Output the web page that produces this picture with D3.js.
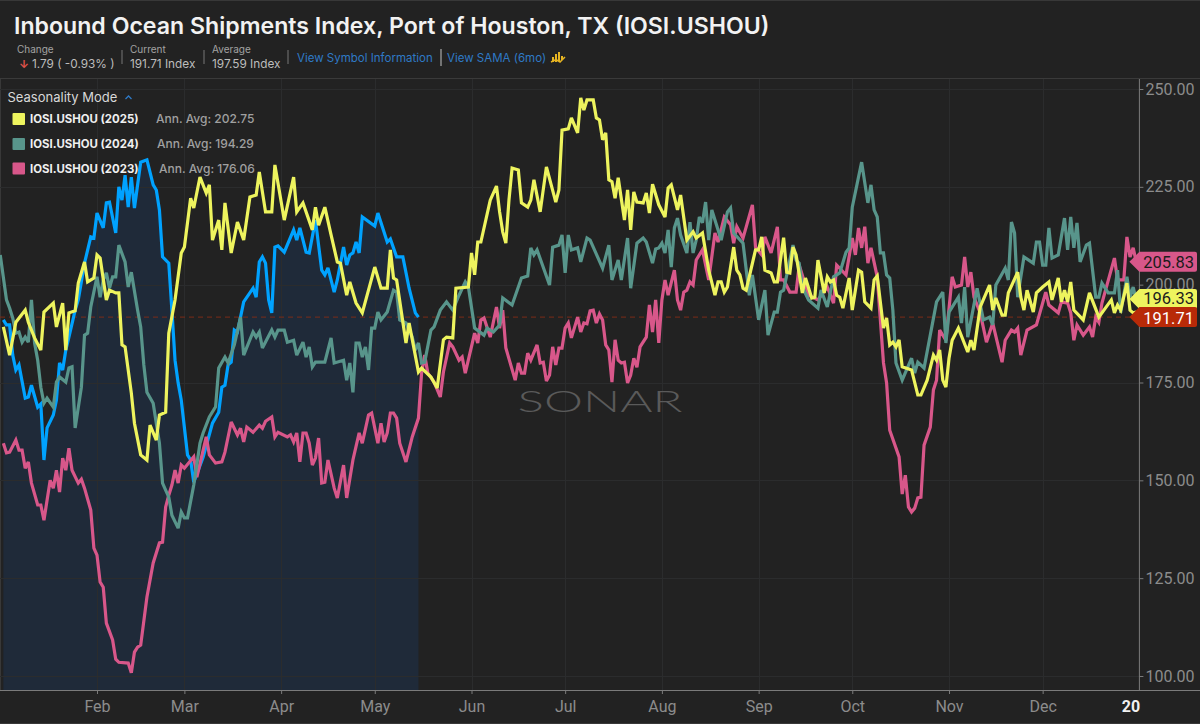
<!DOCTYPE html>
<html><head><meta charset="utf-8">
<style>
html,body{margin:0;padding:0;background:#222222;overflow:hidden}
svg{display:block}
text{font-family:Inter,"Noto Sans",sans-serif}
</style>
<script src="https://cdn.jsdelivr.net/npm/d3@7"></script>
</head><body><svg id="c" width="1200" height="724"></svg>
<script>
// Each pair: [day of year, index value]
const s2025 = [[1,189.2],[3,182],[5,190.4],[8,193.5],[9,190.4],[11,186.4],[13,183.3],[14,193],[17,195.3],[18,189.2],[20,195.3],[21,183.3],[22,192.8],[24,193.3],[25,200.4],[27,205.8],[28,200.7],[30,201.7],[31,207.6],[32,206.8],[34,196.1],[35,198.6],[37,197.9],[38,197.9],[39,184.6],[40,184.1],[42,172.3],[43,164.6],[45,156.5],[47,155.2],[48,164.1],[50,160.3],[51,166.7],[53,167.4],[54,187.6],[56,196.1],[58,208.1],[59,209.6],[61,222.1],[62,219.6],[64,227.5],[66,223.4],[67,225.5],[68,211.4],[70,216.5],[71,208.9],[72,220.9],[74,208.1],[76,216],[78,211.4],[80,222.4],[82,222.9],[83,228.8],[85,218.6],[87,218.6],[88,230.6],[91,216.5],[94,227.5],[95,218.6],[97,220.9],[100,214],[101,219.8],[102,215.2],[104,219.8],[106,212.7],[108,205.8],[109,205.5],[111,197.3],[112,200.7],[114,195.3],[116,192.8],[120,204.5],[122,199.1],[124,199.1],[125,208.9],[126,201.7],[127,201.2],[130,185.1],[131,190.2],[134,177.7],[135,178.7],[138,176.4],[140,173.6],[142,185.9],[143,186.6],[145,186.4],[146,199.1],[150,199.4],[151,208.1],[152,202.5],[153,210.9],[154,210.9],[157,221.6],[159,225.2],[160,218.6],[161,213.5],[162,210.6],[163,221.6],[164,229.8],[166,229.3],[167,220.9],[169,219.8],[170,221.6],[171,226.8],[173,218.6],[175,230.1],[178,221.1],[179,224.2],[180,239.5],[182,239.8],[183,242.6],[185,238.8],[186,247.7],[187,244.6],[188,247.2],[190,247.2],[191,242.6],[192,242.1],[193,237],[194,238.8],[195,226.8],[196,226.3],[197,222.1],[198,227.3],[200,216.5],[201,224.2],[202,214],[203,223.7],[204,221.1],[206,220.9],[207,223.4],[208,218.3],[209,225.7],[211,220.4],[213,217.3],[214,224.7],[215,225.5],[217,219.1],[218,222.9],[220,211.4],[222,213.5],[223,211.9],[225,213.2],[227,203.7],[229,197.3],[230,200.7],[231,200.7],[232,198.1],[233,199.4],[235,209.6],[236,203.7],[237,202.5],[238,199.1],[239,198.6],[242,208.9],[243,208.9],[244,212.2],[245,203.7],[247,203],[248,200.7],[249,200.7],[251,212],[252,203.2],[253,203],[254,209.6],[255,207.6],[257,197.9],[258,201.7],[260,196.6],[261,196.8],[262,206.3],[264,197.9],[265,202],[266,200.7],[267,201.2],[268,197.3],[269,196.8],[270,194],[272,201.7],[273,193.5],[275,203.7],[276,203.2],[277,195.6],[279,194],[280,201.2],[281,202.2],[283,188.9],[284,191.5],[285,184.6],[286,185.3],[287,184.1],[288,185.9],[289,179],[292,178.2],[294,171.8],[295,171.8],[297,175.6],[299,182],[300,180.7],[301,183.3],[302,175.6],[303,173.8],[304,181.2],[305,185.8],[307,188.9],[310,182.8],[311,185.8],[312,183.3],[314,194.3],[317,199.9],[318,193.5],[319,196.6],[321,192.2],[322,192.2],[323,197.9],[326,203.2],[327,196.8],[328,193.5],[329,198.6],[331,193],[332,197.9],[334,199.4],[336,200.7],[337,196.1],[339,201.7],[340,195.6],[341,198.6],[342,195.6],[343,200.7],[344,193.5],[347,191],[349,197.9],[352,191.7],[356,196.1],[357,192.8],[358,194.8],[359,193.5],[361,200.4],[362,193.5],[363,192.8],[364,193]];
const s2026 = [[1,191],[2,189.7],[3,189.7],[4,182],[5,178.2],[6,179.5],[8,171],[9,171.3],[10,174.3],[12,168.7],[13,169.5],[14,155.2],[15,163.4],[17,166.7],[18,170.5],[19,180],[20,178.2],[21,183.3],[22,186.6],[24,193.5],[25,196.1],[27,205.5],[29,212.2],[30,211.9],[31,218.3],[33,214.5],[34,220.9],[35,221.1],[37,213.2],[38,225],[39,221.6],[40,228],[41,219.8],[42,227.5],[43,219.6],[45,231.3],[47,231.9],[49,225.5],[50,224.2],[51,219.1],[52,207.1],[54,205.5],[55,193.5],[56,180.7],[57,174.9],[58,170.5],[60,156.5],[61,155.2],[62,149.5],[65,155.9],[68,164.6],[70,167.4],[71,173.8],[72,174.3],[73,179.5],[74,180.2],[75,188.4],[76,187.9],[78,195.6],[81,199.1],[82,196.8],[83,205.8],[84,207.1],[85,205.5],[86,196.1],[87,192.8],[88,209.6],[89,209.9],[91,208.3],[94,214],[95,211.4],[96,214.5],[98,208.3],[99,208.1],[101,216.5],[103,203.7],[104,202.5],[105,204.3],[107,198.1],[108,201.2],[110,209.6],[111,205],[112,207.6],[113,208.1],[114,210.9],[115,208.1],[116,217.3],[120,215],[121,218.3],[124,210.9],[125,211.7],[127,207.1],[129,207.1],[131,199.1],[133,192.8],[134,191.7]];
const s2024 = [[0,207.6],[2,196.1],[3,194],[4,191.5],[5,187.6],[6,187.9],[7,185.3],[8,186.6],[9,185.3],[10,196.1],[11,185.1],[12,180.7],[13,173.8],[14,169.7],[15,171],[17,168.7],[18,175.1],[19,176.4],[21,175.1],[22,178.7],[23,179],[24,163.4],[26,173.8],[27,187.1],[28,187.6],[29,194.3],[31,202],[32,196.8],[33,201.2],[34,203],[35,199.1],[36,202],[37,202],[38,210.1],[40,205.8],[41,199.4],[42,203.2],[44,193.5],[45,189.2],[46,179.5],[47,172.5],[49,169.7],[51,159.5],[52,149.3],[54,145.7],[55,141.1],[57,137.8],[58,141.9],[59,140.4],[60,140.4],[62,148.8],[64,159.5],[65,162.1],[67,166.2],[69,168.8],[70,178.7],[72,181.5],[73,180],[75,184.6],[77,191.7],[78,182],[81,187.9],[82,186.6],[83,187.9],[84,183.8],[87,188.4],[88,186.6],[89,188.4],[91,188.4],[92,185.3],[94,185.8],[95,182],[97,185.3],[98,181.5],[99,184.1],[100,179],[101,180.2],[104,180.2],[106,186.4],[107,180],[110,180.7],[111,175.6],[112,180],[113,172.5],[114,185.1],[115,185.1],[116,181.5],[117,184.1],[118,178.2],[119,188.9],[120,188.9],[121,193],[122,191],[124,193],[126,198.6],[127,198.1],[128,191],[130,190.2],[132,186.6],[133,183.3],[134,185.1],[135,180],[136,180.2],[138,188.4],[139,189.2],[141,193.5],[143,195.6],[145,193.5],[147,197.3],[149,200.7],[150,199.4],[152,188.9],[155,187.1],[156,188.9],[158,187.9],[160,189.7],[161,196.6],[164,194.8],[167,201.7],[169,202.2],[170,209.4],[171,207.6],[172,208.9],[176,199.9],[177,209.6],[179,210.1],[180,212.7],[181,203],[182,212.7],[183,208.9],[185,209.4],[186,205.8],[188,211.9],[189,211.4],[193,204.2],[195,210.1],[196,201.2],[198,206.3],[199,201.2],[201,211.9],[202,199.1],[204,210.6],[206,211.9],[207,210.9],[209,205.5],[210,209.1],[211,209.4],[212,210.6],[213,208.1],[214,214],[215,204.5],[216,214.5],[217,217],[218,212.7],[220,208.1],[221,216],[222,208.1],[223,211.4],[224,217.3],[225,215.8],[226,221.1],[227,211.4],[228,219.1],[231,211.4],[233,218.6],[234,219.6],[235,213.2],[238,210.6],[240,197.3],[241,202.5],[243,191],[245,198.6],[246,187.1],[248,193],[249,193],[250,198.1],[251,198.6],[254,210.1],[255,206.3],[256,205.5],[257,199.4],[259,196.1],[262,194],[263,198.6],[265,194.3],[267,202],[269,203],[271,208.3],[272,209.4],[273,219.8],[276,231.3],[278,220.9],[279,225.5],[280,219.1],[281,217.3],[282,208.1],[283,208.1],[284,202.5],[285,201.7],[286,193.5],[287,180],[289,175.6],[292,181.2],[293,177.4],[294,180.2],[296,178.7],[300,195.6],[302,198.1],[303,185.1],[304,193],[307,196.8],[308,190.2],[309,199.4],[310,186.6],[313,199.1],[315,191],[317,191.7],[318,189.7],[319,199.9],[322,204.2],[323,201.2],[324,216],[325,213.2],[326,196.8],[328,207.1],[331,205.5],[332,210.9],[333,210.9],[334,205],[335,205],[336,214.5],[337,206.8],[339,207.6],[341,217],[342,208.9],[343,217.3],[344,209.4],[345,215.8],[346,205.8],[348,210.1],[349,210.6],[351,196.8],[352,196.8],[353,200.4],[355,197.9],[357,197.9],[358,203.7],[359,192.8],[361,202],[362,196.8],[363,199.4],[364,196.1]];
const s2023 = [[1,159.5],[2,157],[3,157.2],[5,160.3],[6,157.7],[7,157.7],[8,153.1],[9,154.7],[10,149.3],[12,143.7],[13,143.7],[14,139.8],[16,150],[17,148],[18,152.6],[19,147],[20,155.7],[21,152.6],[22,158.2],[23,152.6],[25,149.3],[26,150.3],[27,148],[29,142.4],[30,132.7],[31,130.9],[32,124],[33,122.7],[34,113.5],[36,109.2],[37,104.3],[38,103.5],[41,103.3],[42,100.8],[43,106.1],[44,107.4],[45,107.9],[47,120.2],[49,128.9],[51,134],[52,134.2],[53,143.2],[54,146.2],[55,148.8],[56,152.6],[57,149.3],[58,153.9],[59,153.1],[62,156],[63,150.8],[66,161.1],[67,156.5],[69,154.4],[71,154.7],[72,157.2],[74,164.9],[76,161.6],[77,163.3],[78,159.8],[79,163.6],[81,162.3],[83,164.1],[84,163.3],[85,165.1],[87,166.2],[88,161.1],[89,162.3],[92,161.1],[93,161.6],[94,159.8],[95,162.1],[96,154.7],[97,162.1],[98,162.1],[99,159.5],[100,153.9],[101,155.7],[102,160.8],[103,149.3],[104,149.5],[105,155.2],[107,148],[108,145.5],[110,153.9],[111,145.5],[113,155.2],[115,162.1],[116,159.5],[118,166.7],[119,167.2],[121,159.5],[122,164.6],[123,159.8],[124,162.1],[125,167.2],[126,167.2],[127,165.9],[128,159.5],[130,154.7],[132,161.1],[134,165.9],[135,177.4],[136,182],[137,177.4],[139,175.1],[141,171.3],[142,177.7],[144,185.1],[145,184.1],[147,180.7],[148,181.5],[149,177.4],[152,187.6],[153,185.1],[154,191],[155,191.5],[157,186.6],[159,194.3],[160,188.9],[161,193.5],[162,183.8],[165,175.6],[166,180],[167,177.4],[168,177.4],[169,182.5],[170,180.7],[172,184.6],[173,180],[174,180.2],[175,175.4],[176,176.9],[177,184.1],[178,179.5],[179,183.8],[180,183.8],[181,188.9],[182,190.2],[183,186.4],[185,191.7],[186,187.9],[187,190.2],[188,190],[189,193.3],[190,193.5],[191,190.2],[192,192.5],[193,191],[194,184.6],[195,183.3],[196,175.1],[197,185.9],[198,180.7],[199,180],[200,180.2],[201,174.9],[202,176.9],[203,181.2],[204,178.9],[205,184.1],[207,186.6],[208,194.8],[209,187.9],[210,196.1],[211,185.1],[212,196.1],[213,201.2],[214,197.3],[216,203.7],[217,196.1],[218,193.5],[219,198.1],[220,198.6],[221,200.7],[222,199.9],[223,206.3],[225,208.9],[227,201.2],[229,213.2],[230,210.9],[232,217.3],[234,215.3],[235,210.6],[236,214.8],[238,211.9],[241,220.4],[242,209.6],[244,207.6],[245,212.2],[247,208.1],[249,214.8],[250,201.2],[251,201.2],[253,198.1],[255,198.1],[256,205],[259,197.3],[262,196.1],[265,199.4],[267,195.3],[268,205],[271,202.5],[273,211.9],[274,207.6],[275,214.5],[276,209.4],[277,214.8],[278,205.5],[279,209.4],[281,202],[283,180],[284,174.9],[285,162.8],[288,156],[289,146.5],[290,151.3],[291,143.2],[292,141.9],[293,142.9],[294,145.5],[295,145.7],[296,159],[298,163.6],[299,173.1],[300,175.6],[301,188.4],[303,185.8],[305,202],[306,199.4],[308,199.9],[309,207.1],[310,199.4],[311,203.2],[312,196.8],[314,192.8],[316,185.3],[318,190.2],[321,180.2],[322,185.8],[324,188.4],[325,187.9],[326,188.9],[327,182],[329,188.4],[332,189.7],[335,198.1],[336,194.8],[339,192.8],[340,195.6],[342,195.3],[343,192.8],[344,185.8],[345,189.7],[347,187.1],[349,189.2],[350,186.6],[351,191.7],[352,190.4],[353,195.3],[357,206.8],[358,201.2],[360,201.2],[361,212.2],[362,207.1],[363,209.4],[364,205.8]];

const monthLabels = ["Feb","Mar","Apr","May","Jun","Jul","Aug","Sep","Oct","Nov","Dec","20"];
const monthDays = [31,59,90,120,151,181,212,243,273,304,334,365];
const priceTicks = [100,125,150,175,200,225,250];
const legendNames = ["IOSI.USHOU (2025)","IOSI.USHOU (2024)","IOSI.USHOU (2023)"];
const legendAvgs = ["Ann. Avg: 202.75","Ann. Avg: 194.29","Ann. Avg: 176.06"];
const lastValues = [205.83,196.33,191.71];

const C = {bg:"#222222",grid:"#2b2c2d",axis:"#7b7b7b",tick:"#8c8c8c",yellow:"#eef45e",green:"#58958b",pink:"#d8578a",blue:"#00a2ff",fill:"#1f2a39",red:"#b82a08"};
const svg = d3.select("#c");
const x = d3.scaleLinear().domain([0,365]).range([0.25,1139.4]);
const y = d3.scaleLinear().domain([100,250]).range([676,89]);
const baseY = 690, topY = 79, axisX = x(365);

svg.append("rect").attr("width",1200).attr("height",724).attr("fill",C.bg);
svg.append("line").attr("x1",0).attr("x2",1200).attr("y1",0.5).attr("y2",0.5).attr("stroke","#383838");
svg.append("line").attr("x1",0).attr("x2",1200).attr("y1",78.5).attr("y2",78.5).attr("stroke","#3a3a3a");
svg.append("line").attr("x1",0).attr("x2",1200).attr("y1",723.5).attr("y2",723.5).attr("stroke","#383838");
svg.append("line").attr("x1",0.5).attr("x2",0.5).attr("y1",79).attr("y2",690).attr("stroke","#383838");

const area = d3.area().x(d=>x(d[0])).y0(baseY).y1(d=>y(d[1])).curve(d3.curveLinear);
svg.append("path").datum(s2026).attr("d",area).attr("fill",C.fill);

const g = svg.append("g");
g.selectAll(".h").data(priceTicks).join("line").attr("x1",0).attr("x2",axisX).attr("y1",d=>Math.round(y(d))+.5).attr("y2",d=>Math.round(y(d))+.5).attr("stroke",C.grid);
g.selectAll(".v").data(monthDays.slice(0,11)).join("line").attr("y1",topY).attr("y2",baseY).attr("x1",d=>Math.round(x(d))+.5).attr("x2",d=>Math.round(x(d))+.5).attr("stroke",C.grid);

svg.append("line").attr("x1",0).attr("x2",axisX).attr("y1",y(lastValues[2])).attr("y2",y(lastValues[2])).attr("stroke","#7d2c18").attr("stroke-width",1).attr("stroke-dasharray","5 4");

const line = d3.line().x(d=>x(d[0])).y(d=>y(d[1])).curve(d3.curveLinear);
[[s2026,C.blue],[s2023,C.pink],[s2024,C.green],[s2025,C.yellow]].forEach(([d,c])=>{
  svg.append("path").datum(d).attr("d",line).attr("fill","none").attr("stroke",c).attr("stroke-width",3.2).attr("stroke-linejoin","miter").attr("stroke-miterlimit",3);
});

const yAxis = svg.append("g").attr("transform",`translate(${axisX},0)`)
  .call(d3.axisRight(y).tickValues(priceTicks).tickFormat(d3.format(".2f")).tickSize(4).tickPadding(2));
yAxis.select(".domain").remove();
yAxis.selectAll("line").attr("stroke",C.axis);
yAxis.selectAll("text").attr("fill",C.tick).style("font-family","Roboto").style("font-size","16px");
svg.append("line").attr("x1",axisX).attr("x2",axisX).attr("y1",topY).attr("y2",baseY).attr("stroke",C.axis);

const xAxis = svg.append("g").attr("transform",`translate(0,${baseY})`)
  .call(d3.axisBottom(x).tickValues(monthDays).tickFormat((d,i)=>monthLabels[i]).tickSize(4).tickPadding(7));
xAxis.select(".domain").remove();
xAxis.selectAll("line").attr("stroke",C.axis);
xAxis.selectAll("text").attr("fill",C.tick).style("font-family","Roboto").style("font-size","16px");
xAxis.selectAll("g.tick").filter(d=>d===365).select("text").attr("fill","#f0f0f0").attr("dx",-9).style("font-weight","700");
xAxis.selectAll("g.tick").filter(d=>d===365).select("line").remove();
svg.append("line").attr("x1",0).attr("x2",1200).attr("y1",baseY+.5).attr("y2",baseY+.5).attr("stroke",C.axis);

const tagColors = [C.pink,C.yellow,C.red], tagText = ["#1c1c1c","#1c1c1c","#ffffff"];
const tagShift = [0,-1,0.5];
lastValues.forEach((v,i)=>{
  const cy = y(v), t = axisX-10, l = axisX, r = 1197, h = 10, rad = 2;
  svg.append("path").attr("d",`M${t},${cy}L${l},${cy-h}H${r-rad}Q${r},${cy-h} ${r},${cy-h+rad}V${cy+h-rad}Q${r},${cy+h} ${r-rad},${cy+h}H${l}Z`).attr("fill",tagColors[i]);
  svg.append("text").attr("x",1194).attr("y",cy+tagShift[i]).attr("dy",".36em").attr("text-anchor","end").attr("fill",tagText[i]).style("font-family","Roboto").style("font-size","16.5px").text(v.toFixed(2));
});

svg.append("text").attr("x",600).attr("y",412).attr("text-anchor","middle").attr("fill","#5a5a5a").attr("textLength",165).attr("lengthAdjust","spacingAndGlyphs").style("font-family","Lato").style("font-weight",300).style("font-size","29px").text("SONAR");

const T = (tx,ty,s,size,fill,weight,fam)=>svg.append("text").attr("x",tx).attr("y",ty).attr("fill",fill).style("font-size",size+"px").style("font-weight",weight||400).style("font-family",fam||"Inter").text(s);
T(14,34,"Inbound Ocean Shipments Index, Port of Houston, TX (IOSI.USHOU)",23.13,"#f2f2f2",600);
T(17,53,"Change",10,"#a3a3a3");
T(130,53,"Current",10,"#a3a3a3");
T(212,53,"Average",10,"#a3a3a3");
T(19,68,"\u2193",11,"#e0524a",700);
T(32,68,"1.79 ( -0.93% )",11.8,"#bdbdbd");
T(130,68,"191.71 Index",11.8,"#bdbdbd");
T(212,68,"197.59 Index",11.8,"#bdbdbd");
T(297,62,"View Symbol Information",11.5,"#2f7ac6");
T(447,62,"View SAMA (6mo)",11.5,"#2f7ac6");
[[122,50,64,"#777"],[204,50,64,"#777"],[288,50,64,"#777"],[441,49,66,"#c4c4c4"]].forEach(([lx,a,b,c])=>svg.append("line").attr("x1",lx).attr("x2",lx).attr("y1",a).attr("y2",b).attr("stroke",c));
[[552,57,2,5],[555,54,2,8],[558,52,2,9],[561,56,2,4]].forEach(([a,b,w,h])=>svg.append("rect").attr("x",a).attr("y",b).attr("width",w).attr("height",h).attr("fill","#e6b422"));
svg.append("path").attr("d","M551,62L556,59.5L560,62L565,57").attr("fill","none").attr("stroke","#e6b422").attr("stroke-width",1.5);

T(7.5,102,"Seasonality Mode",13,"#d8d8d8");
svg.append("path").attr("d","M125.5,99L128.5,96L131.5,99").attr("fill","none").attr("stroke","#2f7ac6").attr("stroke-width",1.3);
const swatches=[C.yellow,C.green,C.pink], ly=[113,138,162.5], ax=[156,157,159];
legendNames.forEach((n,i)=>{
  svg.append("rect").attr("x",12.5).attr("y",ly[i]).attr("width",12.5).attr("height",12).attr("rx",1).attr("fill",swatches[i]);
  T(30,ly[i]+10,n,11.4,"#f0f0f0",700);
  T(ax[i],ly[i]+10,legendAvgs[i],12,"#a0a0a0",500);
});
</script></body></html>
